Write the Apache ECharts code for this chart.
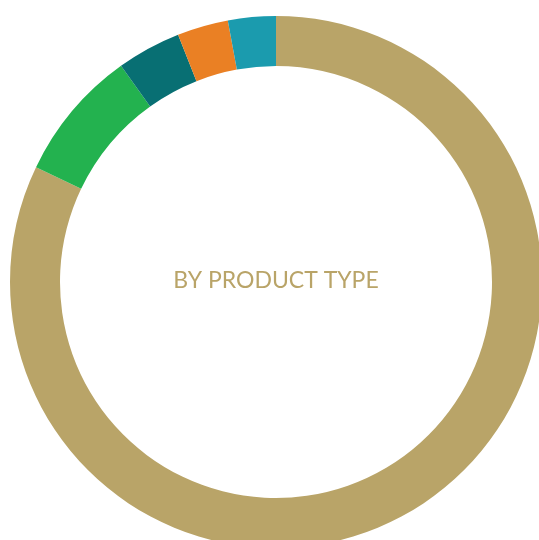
<!DOCTYPE html>
<html><head><meta charset="utf-8">
<script src="https://cdn.jsdelivr.net/npm/echarts@6/dist/echarts.min.js"></script>
<style>html,body{margin:0;padding:0;background:#fff}#c{width:539px;height:540px}</style>
</head><body><div id="c"></div>
<script>
const categories = ['Type A', 'Type B', 'Type C', 'Type D', 'Type E'];
const values = [82.1, 8.0, 3.9, 3.1, 2.9];
const colors = ['#B9A468', '#23B24F', '#086F73', '#EA8024', '#1B9BAE'];
const centerLabel = 'BY PRODUCT TYPE';

const chart = echarts.init(document.getElementById('c'));
chart.setOption({
  animation: false,
  graphic: [{
    type: 'text', x: 276, y: 281,
    style: { text: centerLabel, fill: '#B9A468', font: 'normal 23px Lato', align: 'center', verticalAlign: 'middle' }
  }],
  series: [{
    type: 'pie',
    center: [276, 282],
    radius: [216, 266],
    startAngle: 90,
    clockwise: true,
    label: { show: false },
    labelLine: { show: false },
    itemStyle: { borderWidth: 0 },
    emphasis: { disabled: true },
    data: categories.map((n, i) => ({ name: n, value: values[i], itemStyle: { color: colors[i] } }))
  }]
});
</script></body></html>
